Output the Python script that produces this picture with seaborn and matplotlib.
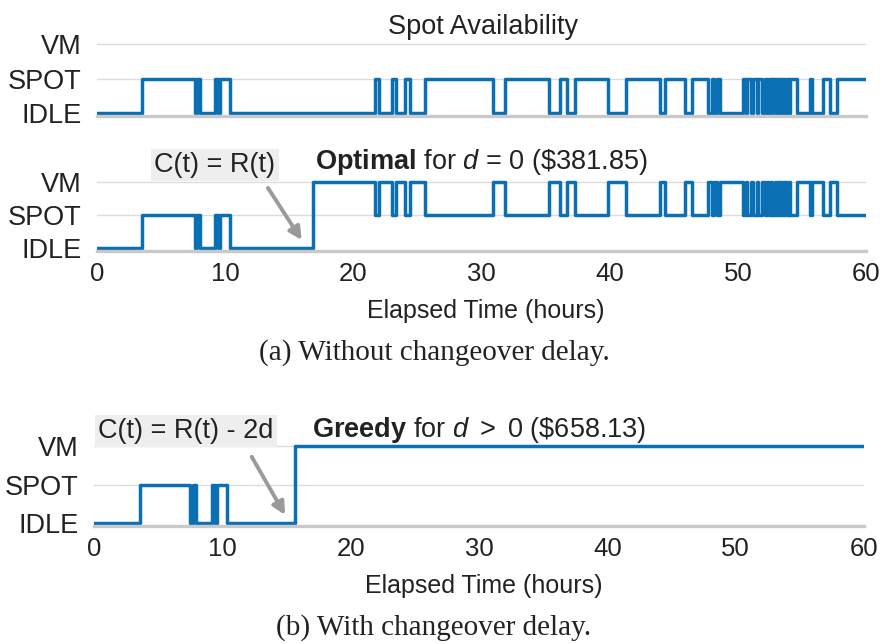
import matplotlib
matplotlib.use("Agg")
import matplotlib.pyplot as plt
import seaborn as sns
import pandas as pd

# ---------------- data ----------------
state_labels = ["IDLE", "SPOT", "VM"]
x_ticks = [0, 10, 20, 30, 40, 50, 60]

# Spot availability (0 = IDLE / not available, 1 = SPOT available); step-post
avail_times = [0, 3.49, 7.62, 7.78, 8.03, 9.2, 9.45, 9.58, 10.35,
               21.7, 22.0, 23.0, 23.3, 24.0, 24.4, 25.6,
               30.9, 31.8, 35.3, 36.1, 36.7, 37.3, 39.9, 41.3, 43.9, 44.3, 45.85, 46.45,
               47.7, 47.95, 48.15, 48.35, 48.6, 50.4,
               50.6, 50.75, 51.0, 51.2, 51.5, 51.6, 51.9, 52.1, 52.3, 52.4, 52.6, 52.7,
               52.9, 53.0, 53.1, 53.2, 53.3, 53.4, 53.5, 53.6, 53.7, 53.8, 54.0, 54.1,
               54.6, 55.6, 55.75, 56.65, 57.2, 57.7, 60]
avail_state = [0, 1, 0, 1, 0, 1, 0, 1, 0,
               1, 0, 1, 0, 1, 0, 1,
               0, 1, 0, 1, 0, 1, 0, 1, 0, 1, 0, 1,
               0, 1, 0, 1, 0, 1,
               0, 1, 0, 1, 0, 1, 0, 1, 0, 1, 0, 1,
               0, 1, 0, 1, 0, 1, 0, 1, 0, 1, 0, 1,
               0, 1, 0, 1, 0, 1, 1]

# Optimal schedule for d = 0
opt_times = [0, 3.49, 7.62, 7.78, 8.03, 9.2, 9.45, 9.58, 10.35, 16.87,
             21.7, 22.0, 23.0, 23.3, 24.0, 24.4, 25.6,
             30.9, 31.8, 35.3, 36.1, 36.7, 37.3, 39.9, 41.3, 43.9, 44.3, 45.85, 46.45,
             47.7, 47.95, 48.15, 48.35, 48.6, 50.4,
             50.6, 50.75, 51.0, 51.2, 51.5, 51.6, 51.9, 52.1, 52.3, 52.4, 52.6, 52.7,
             52.9, 53.0, 53.1, 53.2, 53.3, 53.4, 53.5, 53.6, 53.7, 53.8, 54.0, 54.1,
             54.6, 55.6, 55.75, 56.65, 57.2, 57.7, 60]
opt_state = [0, 1, 0, 1, 0, 1, 0, 1, 0, 2,
             1, 2, 1, 2, 1, 2, 1,
             2, 1, 2, 1, 2, 1, 2, 1, 2, 1, 2, 1,
             2, 1, 2, 1, 2, 1,
             2, 1, 2, 1, 2, 1, 2, 1, 2, 1, 2, 1,
             2, 1, 2, 1, 2, 1, 2, 1, 2, 1, 2, 1,
             2, 1, 2, 1, 2, 1, 1]

# Greedy schedule for d > 0
greedy_times = [0, 3.58, 7.5, 7.7, 7.95, 9.17, 9.45, 9.6, 10.34, 15.67, 60]
greedy_state = [0, 1, 0, 1, 0, 1, 0, 1, 0, 2, 2]

# ---------------- style ----------------
sns.set_style("white")
plt.rcParams["font.family"] = ["Liberation Sans", "DejaVu Sans"]
plt.rcParams["mathtext.fontset"] = "custom"
plt.rcParams["mathtext.rm"] = "Liberation Sans"
plt.rcParams["mathtext.it"] = "Liberation Sans:italic"
plt.rcParams["mathtext.bf"] = "Liberation Sans:bold"

BLUE = "#0b6fb3"
GRID = "#dcdcdc"
SPINE = "#c9c9c9"
TXT = "#222222"
FS_Y = 19.5
FS_X = 18.5
FS_LAB = 18
FS_T = 19.5
FS_CAP = 21

W, H = 886, 644
fig = plt.figure(figsize=(W / 100, H / 100), dpi=100)


def px_axes(left, right, top, bottom):
    return fig.add_axes([left / W, 1 - bottom / H, (right - left) / W, (bottom - top) / H])


def style_axes(ax, show_x):
    ax.set_xlim(0, 60)
    ax.set_ylim(-0.08, 2.3)
    ax.set_yticks([0, 1, 2])
    ax.set_yticklabels(state_labels, fontsize=FS_Y, color=TXT)
    for y in (1, 2):
        ax.axhline(y, color=GRID, lw=1.0, zorder=0)
    for s in ("top", "right", "left"):
        ax.spines[s].set_visible(False)
    ax.spines["bottom"].set_color(SPINE)
    ax.spines["bottom"].set_linewidth(2.4)
    ax.tick_params(axis="y", length=0, pad=11)
    ax.tick_params(axis="x", length=0, pad=8, labelsize=FS_X, labelcolor=TXT)
    ax.set_xticks(x_ticks)
    if not show_x:
        ax.set_xticklabels([])
    ax.set_ylabel("")
    ax.set_xlabel("")


def draw(ax, t, s):
    df = pd.DataFrame({"t": t, "s": s})
    sns.lineplot(data=df, x="t", y="s", ax=ax, drawstyle="steps-post",
                 estimator=None, sort=False, color=BLUE, lw=2.5)


ARROW = dict(arrowstyle="-|>,head_length=0.75,head_width=0.38",
             color="#9a9a9a", lw=2.8, shrinkB=0)

# Panel 1: spot availability
ax1 = px_axes(97, 866, 33.7, 115.8)
draw(ax1, avail_times, avail_state)
style_axes(ax1, False)
fig.text(483 / W, 1 - 27 / H, "Spot Availability", ha="center", va="center",
         fontsize=FS_T, color=TXT)

# Panel 2: optimal
ax2 = px_axes(97, 866, 172.1, 250.6)
draw(ax2, opt_times, opt_state)
style_axes(ax2, True)
ax2.set_xlabel("Elapsed Time (hours)", fontsize=FS_LAB, labelpad=9, color=TXT)
ax2.xaxis.set_label_coords(0.506, -0.62)
ax2.annotate("", xy=(15.97, 0.24), xytext=(13.34, 1.82),
             annotation_clip=False, arrowprops=dict(ARROW, shrinkA=0))
ax2.text(9.2, 2.52, "C(t) = R(t)", ha="center", va="center", fontsize=FS_T,
         color=TXT, clip_on=False,
         bbox=dict(boxstyle="square,pad=0.12", fc="#eeeeee", ec="none"))
ax2.text(17.0, 2.6, r"$\mathbf{Optimal}$ for $\mathit{d}$ = 0 (\$381.85)",
         fontsize=FS_T, ha="left", va="center", clip_on=False, color=TXT)

fig.text(434 / W, 1 - 353 / H, "(a) Without changeover delay.", ha="center", va="center",
         fontsize=FS_CAP, family=["Liberation Serif", "DejaVu Serif"], color=TXT)

# Panel 3: greedy
ax3 = px_axes(94, 864, 434.5, 526.1)
draw(ax3, greedy_times, greedy_state)
style_axes(ax3, True)
ax3.set_xlabel("Elapsed Time (hours)", fontsize=FS_LAB, labelpad=9, color=TXT)
ax3.xaxis.set_label_coords(0.506, -0.52)
ax3.annotate("", xy=(14.89, 0.21), xytext=(12.29, 1.72),
             annotation_clip=False, arrowprops=dict(ARROW, shrinkA=0))
ax3.text(7.17, 2.39, "C(t) = R(t) - 2d", ha="center", va="center", fontsize=FS_T,
         color=TXT, clip_on=False,
         bbox=dict(boxstyle="square,pad=0.12", fc="#eeeeee", ec="none"))
ax3.text(17.0, 2.42, r"$\mathbf{Greedy}$ for $\mathit{d}$ $>$ 0 (\$658.13)",
         fontsize=FS_T, ha="left", va="center", clip_on=False, color=TXT)

fig.text(434 / W, 1 - 628 / H, "(b) With changeover delay.", ha="center", va="center",
         fontsize=FS_CAP, family=["Liberation Serif", "DejaVu Serif"], color=TXT)

fig.savefig("out.png", dpi=100)
